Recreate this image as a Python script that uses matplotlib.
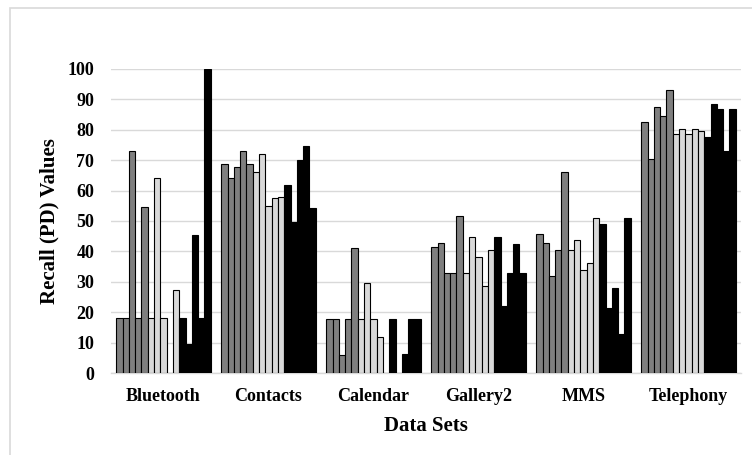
import numpy as np
import matplotlib.pyplot as plt
from matplotlib.patches import Rectangle

# Datos (15 series por conjunto de datos)
data_sets = ['Bluetooth', 'Contacts', 'Calendar', 'Gallery2', 'MMS', 'Telephony']

bluetooth = [18.2, 18.2, 73.0, 18.2, 54.7, 18.2, 64.1, 18.2, 0, 27.4, 18.2, 9.4, 45.5, 18.2, 100]
contacts = [68.6, 64.2, 67.7, 73.0, 68.6, 66.2, 71.9, 55.0, 57.4, 58.0, 62.0, 49.6, 69.9, 74.6, 54.3]
calendar = [17.8, 17.8, 5.8, 17.8, 41.1, 17.8, 29.5, 17.8, 11.9, 0, 17.8, 0, 6.1, 17.8, 17.8]
gallery2 = [41.5, 42.7, 32.9, 32.9, 51.8, 32.9, 44.7, 38.3, 28.6, 40.4, 44.7, 22.0, 32.9, 42.5, 32.9]
mms = [45.7, 42.7, 32.0, 40.4, 66.0, 40.4, 43.7, 34.0, 36.1, 51.1, 49.1, 21.4, 27.9, 12.9, 51.1]
telephony = [82.4, 70.3, 87.6, 84.6, 93.0, 78.7, 80.4, 78.7, 80.4, 79.5, 77.6, 88.5, 86.8, 73.0, 86.8]

values = np.array([bluetooth, contacts, calendar, gallery2, mms, telephony])
n_series = values.shape[1]

# colores: 5 grises, 5 claros, 5 negros
bar_colors = ['#7f7f7f'] * 5 + ['#d9d9d9'] * 5 + ['#000000'] * 5

plt.rcParams['font.family'] = ['Liberation Serif', 'DejaVu Serif']

fig = plt.figure(figsize=(7.52, 4.55), dpi=100)
ax = fig.add_axes([0.1476, 0.1802, 0.8378, 0.6682])

# borde gris del área del gráfico
fig.patches.append(Rectangle((10 / 752, -0.1), 1.2, 1.1 - 8 / 455, transform=fig.transFigure,
                             fill=False, edgecolor='#d9d9d9', linewidth=1.2))

group_width = 0.9
bar_width = group_width / n_series
index = np.arange(len(data_sets))

for i in range(n_series):
    offset = -group_width / 2 + (i + 0.5) * bar_width
    ax.bar(index + offset, values[:, i], bar_width, color=bar_colors[i],
           edgecolor='black', linewidth=0.8, zorder=3)

ax.set_xlim(-0.5, len(data_sets) - 0.5)
ax.set_ylim(0, 100)
ax.set_yticks(np.arange(0, 101, 10))
ax.set_xticks(index)
ax.set_xticklabels(data_sets)

ax.grid(axis='y', color='#d9d9d9', linewidth=1.0, zorder=0)
for side in ['top', 'right', 'left']:
    ax.spines[side].set_visible(False)
ax.spines['bottom'].set_color('#d9d9d9')
ax.spines['bottom'].set_linewidth(1.0)
ax.tick_params(length=0)
ax.tick_params(axis='y', pad=12, labelsize=13)
ax.tick_params(axis='x', pad=11, labelsize=13)
for lbl in ax.get_xticklabels() + ax.get_yticklabels():
    lbl.set_fontweight('bold')

ax.set_xlabel('Data Sets', fontsize=15, fontweight='bold', labelpad=8)
ax.set_ylabel('Recall (PD) Values', fontsize=15, fontweight='bold', labelpad=6)

fig.savefig('out.png', dpi=100)
